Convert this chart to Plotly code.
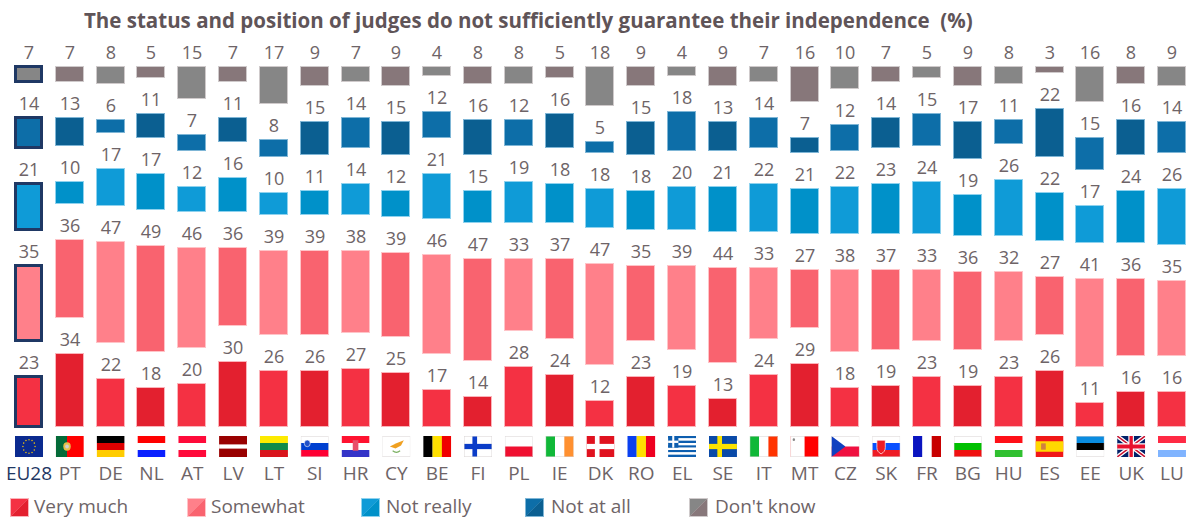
import base64
import plotly.graph_objects as go

TITLE = "The status and position of judges do not sufficiently guarantee their independence  (%)"
countries = ["EU28","PT","DE","NL","AT","LV","LT","SI","HR","CY","BE","FI","PL","IE","DK","RO","EL","SE","IT","MT","CZ","SK","FR","BG","HU","ES","EE","UK","LU"]
very_much = [23,34,22,18,20,30,26,26,27,25,17,14,28,24,12,23,19,13,24,29,18,19,23,19,23,26,11,16,16]
somewhat = [35,36,47,49,46,36,39,39,38,39,46,47,33,37,47,35,39,44,33,27,38,37,33,36,32,27,41,36,35]
not_really = [21,10,17,17,12,16,10,11,14,12,21,15,19,18,18,18,20,21,22,21,22,23,24,19,26,22,17,24,26]
not_at_all = [14,13,6,11,7,11,8,15,14,15,12,16,12,16,5,15,18,13,14,7,12,14,15,17,11,22,15,16,14]
dont_know = [7,7,8,5,15,7,17,9,7,9,4,8,8,5,18,9,4,9,7,16,10,7,5,9,8,3,16,8,9]

W, H = 1189, 519
FONT = "Open Sans"
TEXT = "#6e6467"
NAVY = "#1f3864"
PX_PER_X = 40.82
X0_PX = 29.0
PX_PER_Y = 2.16
PLOT_BOTTOM = 435
GAP = 36 / PX_PER_Y

series = [
    ("Very much", very_much, "#f43143", "#e3202f", "#fbb4ba"),
    ("Somewhat", somewhat, "#ff808a", "#f9636f", "#ffc4c8"),
    ("Not really", not_really, "#0f9bd7", "#0091c9", "#8fd2ee"),
    ("Not at all", not_at_all, "#0d6ea8", "#0b5f91", "#7fb6d6"),
    ("Don't know", dont_know, "#868686", "#87777a", "#cfcacb"),
]

def svg(body):
    s = '<svg xmlns="http://www.w3.org/2000/svg" width="90" height="60" viewBox="0 0 30 20" preserveAspectRatio="none">' + body + '</svg>'
    return "data:image/svg+xml;base64," + base64.b64encode(s.encode()).decode()

def h(*cols):
    n = len(cols); return "".join(f'<rect x="0" y="{i*20/n}" width="30" height="{20/n+.1}" fill="{c}"/>' for i, c in enumerate(cols))

def v(*cols):
    n = len(cols); return "".join(f'<rect x="{i*30/n}" y="0" width="{30/n+.1}" height="20" fill="{c}"/>' for i, c in enumerate(cols))

def cross(bg, fg):
    return f'<rect width="30" height="20" fill="{bg}"/><rect x="9" width="5" height="20" fill="{fg}"/><rect y="7.5" width="30" height="5" fill="{fg}"/>'

EDGE = '<rect x=".25" y=".25" width="29.5" height="19.5" fill="none" stroke="#d9d4d4" stroke-width=".5"/>'
eu_stars = "".join(f'<circle cx="{15+6.5*x}" cy="{10+6.5*y}" r=".75" fill="#ffcc00"/>' for x, y in
                   [(0,-1),(.5,-.87),(.87,-.5),(1,0),(.87,.5),(.5,.87),(0,1),(-.5,.87),(-.87,.5),(-1,0),(-.87,-.5),(-.5,-.87)])
greek = "".join(f'<rect y="{i*20/9}" width="30" height="{20/9}" fill="{"#0d5eaf" if i%2==0 else "#fff"}"/>' for i in range(9)) + \
        '<rect width="11" height="11.1" fill="#0d5eaf"/><rect x="4.4" width="2.2" height="11.1" fill="#fff"/><rect y="4.4" width="11" height="2.2" fill="#fff"/>'
uk = ('<rect width="30" height="20" fill="#012169"/><path d="M0 0L30 20M30 0L0 20" stroke="#fff" stroke-width="4"/>'
      '<path d="M0 0L30 20M30 0L0 20" stroke="#c8102e" stroke-width="1.5"/><path d="M15 0V20M0 10H30" stroke="#fff" stroke-width="6"/>'
      '<path d="M15 0V20M0 10H30" stroke="#e8112d" stroke-width="3.6"/>')
flags = {
    "EU28": '<rect width="30" height="20" fill="#0b2a8f"/>' + eu_stars,
    "PT": '<rect width="30" height="20" fill="#ff0000"/><rect width="12" height="20" fill="#046a38"/><circle cx="12" cy="10" r="4" fill="#e6c04a"/><circle cx="12" cy="10" r="2" fill="#d0d0d0"/>',
    "DE": h("#000000", "#dd0000", "#ffcc00"),
    "NL": h("#ff0000", "#ffffff", "#0a20ff"),
    "AT": h("#ff0a3a", "#ffffff", "#ff0a3a"),
    "LV": '<rect width="30" height="20" fill="#990000"/><rect y="8" width="30" height="4" fill="#fff"/>',
    "LT": h("#fdea00", "#0f8a4a", "#d9141c"),
    "SI": h("#ffffff", "#0040d0", "#ff0033") + '<circle cx="7" cy="7" r="3.2" fill="#2050c8" stroke="#fff" stroke-width=".6"/>' + EDGE,
    "HR": h("#ff1230", "#ffffff", "#3434c8") + '<rect x="12" y="4" width="6" height="10" fill="#e8506a"/>',
    "CY": '<rect width="30" height="20" fill="#fff"/><path d="M8 10L15 7L23 4L20 9L14 12Z" fill="#f0a020"/><path d="M11 14Q15 17 19 14" stroke="#7ab060" stroke-width="1.2" fill="none"/>' + EDGE,
    "BE": v("#000000", "#ffe000", "#f00000"),
    "FI": cross("#ffffff", "#0a3cc8") + EDGE,
    "PL": h("#ffffff", "#f01030") + EDGE,
    "IE": v("#10b838", "#ffffff", "#ff9030") + EDGE,
    "DK": cross("#e0121f", "#ffffff"),
    "RO": v("#0a40f0", "#ffe000", "#ee0020"),
    "EL": greek,
    "SE": cross("#0a4aa8", "#fce300"),
    "IT": v("#10b838", "#ffffff", "#ff3300") + EDGE,
    "MT": '<rect width="30" height="20" fill="#ff0000"/><rect width="15" height="20" fill="#fff"/><circle cx="3.5" cy="3.5" r="1.3" fill="#888"/>' + EDGE,
    "CZ": '<rect width="30" height="10" fill="#fff"/><rect y="10" width="30" height="10" fill="#f01040"/><path d="M0 0L15 10L0 20Z" fill="#1040c0"/>' + EDGE,
    "SK": h("#ffffff", "#0a50ff", "#ee1c25") + '<path d="M5 4H14V11Q14 15 9.5 17Q5 15 5 11Z" fill="#ee1c25" stroke="#fff" stroke-width=".7"/>' + EDGE,
    "FR": v("#0a14c0", "#ffffff", "#c80000"),
    "BG": h("#ffffff", "#00c000", "#f01010") + EDGE,
    "HU": h("#ff1018", "#ffffff", "#30c030"),
    "ES": '<rect width="30" height="20" fill="#f01818"/><rect y="5" width="30" height="10" fill="#ffd800"/><rect x="6" y="7" width="5" height="6" fill="#d08040"/>',
    "EE": h("#0a8ce0", "#000000", "#ffffff") + EDGE,
    "UK": uk,
    "LU": h("#ff2a44", "#ffffff", "#80b4ff"),
}

def px_x(p):
    return p / W

def px_y(p):
    return (PLOT_BOTTOM - p) / PLOT_BOTTOM

fig = go.Figure()
n = len(countries)
for name, vals, light, dark, edge in series:
    fig.add_bar(
        x=countries, y=vals, name=name, showlegend=False,
        width=[(26 if i == 0 else 28) / PX_PER_X for i in range(n)],
        marker=dict(
            color=[dark if i % 2 else light for i in range(n)],
            line=dict(color=[NAVY if i == 0 else edge for i in range(n)],
                      width=[3 if i == 0 else 1 for i in range(n)]),
        ),
    )
    fig.add_bar(
        x=countries, y=[GAP] * n, showlegend=False, hoverinfo="skip",
        width=28 / PX_PER_X, marker=dict(color="rgba(0,0,0,0)", line=dict(width=0)),
        text=[str(a) for a in vals], textposition="inside", insidetextanchor="start",
        textangle=0, constraintext="none", cliponaxis=False,
        insidetextfont=dict(family=FONT, size=18, color=TEXT),
    )

images = []
for i, c in enumerate(countries):
    cx = X0_PX + PX_PER_X * i
    images.append(dict(source=svg(flags[c]), xref="paper", yref="paper",
                       x=px_x(cx - 14), y=px_y(436), sizex=28 / W, sizey=21 / PLOT_BOTTOM,
                       sizing="stretch", xanchor="left", yanchor="top", layer="above"))

shapes, annotations = [], []
legend_px = [10, 187, 361, 525, 689]
legend_text_px = [32, 209, 384, 549, 713]
for (name, vals, light, dark, edge), lx, tx in zip(series, legend_px, legend_text_px):
    x0, x1, y0, y1 = px_x(lx), px_x(lx + 19), px_y(498), px_y(517)
    shapes.append(dict(type="path", xref="paper", yref="paper", line=dict(width=0), fillcolor=edge,
                       path=f"M{x0},{y0}L{x1},{y0}L{x1},{y1}L{x0},{y1}Z"))
    xa, xb, ya, yb = px_x(lx + 1), px_x(lx + 18), px_y(499), px_y(516)
    shapes.append(dict(type="path", xref="paper", yref="paper", line=dict(width=0), fillcolor=light,
                       path=f"M{xa},{ya}L{xb},{ya}L{xa},{yb}Z"))
    shapes.append(dict(type="path", xref="paper", yref="paper", line=dict(width=0), fillcolor=dark,
                       path=f"M{xb},{ya}L{xb},{yb}L{xa},{yb}Z"))
    annotations.append(dict(text=name, xref="paper", yref="paper", x=px_x(tx), y=px_y(505.5),
                            xanchor="left", yanchor="middle", showarrow=False,
                            font=dict(family=FONT, size=19, color=TEXT)))

ticktext = [f'<span style="color:{NAVY}">{c}</span>' if c == "EU28" else c for c in countries]
fig.update_layout(
    width=W, height=H, barmode="stack", bargap=0,
    margin=dict(l=0, r=0, t=0, b=H - PLOT_BOTTOM, pad=0),
    paper_bgcolor="white", plot_bgcolor="white", showlegend=False,
    title=dict(text=f"<b>{TITLE}</b>", x=84 / W, xanchor="left", xref="container",
               y=1 - 21 / H, yanchor="middle", yref="container",
               font=dict(family=FONT, size=20.5, color="#5f5458")),
    images=images, shapes=shapes, annotations=annotations,
    uniformtext=dict(mode=False),
    xaxis=dict(type="category", categoryorder="array", categoryarray=countries,
               range=[-X0_PX / PX_PER_X, (W - X0_PX) / PX_PER_X],
               tickmode="array", tickvals=countries, ticktext=ticktext,
               ticks="", showline=False, showgrid=False, zeroline=False,
               ticklabelstandoff=25, tickangle=0,
               tickfont=dict(family=FONT, size=19, color=TEXT)),
    yaxis=dict(range=[(427 - PLOT_BOTTOM) / PX_PER_Y, 427 / PX_PER_Y], visible=False, fixedrange=True),
)
fig.write_html("out.html", config=dict(displayModeBar=False),
               post_script="document.body.style.margin='0';document.body.style.overflow='hidden';")
